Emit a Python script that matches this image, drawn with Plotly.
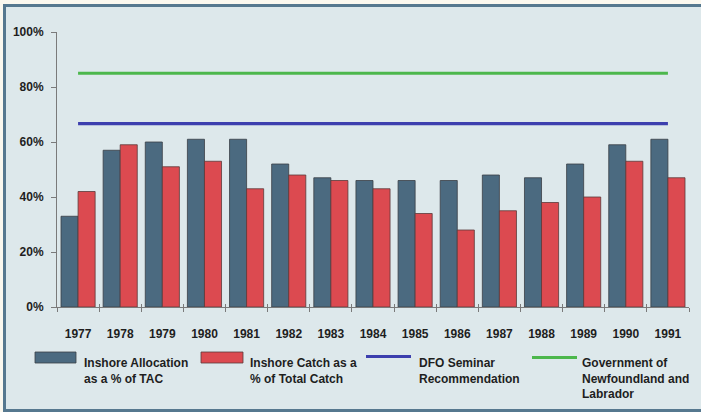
import plotly.graph_objects as go

# Inshore share of the northern cod fishery, 1977-1991
years = ["1977", "1978", "1979", "1980", "1981", "1982", "1983", "1984",
         "1985", "1986", "1987", "1988", "1989", "1990", "1991"]
allocation_pct = [33, 57, 60, 61, 61, 52, 47, 46, 46, 46, 48, 47, 52, 59, 61]
catch_pct = [42, 59, 51, 53, 43, 48, 46, 43, 34, 28, 35, 38, 40, 53, 47]
dfo_recommendation = 66.7
nl_government = 85.0

y_ticks = [0, 20, 40, 60, 80, 100]
y_tick_labels = ["0%", "20%", "40%", "60%", "80%", "100%"]

legend_labels = [
    "Inshore Allocation<br>as a % of TAC",
    "Inshore Catch as a<br>% of Total Catch",
    "DFO Seminar<br>Recommendation",
    "Government of<br>Newfoundland and<br>Labrador",
]

SLATE = "#4b6a80"
RED = "#dc4a50"
BLUE = "#3c3fae"
GREEN = "#4cb74c"
INNER_BG = "#dde8eb"
OUTER_BG = "#fbf8ef"
FRAME = "#56788f"
TEXT = "#1e1e1e"

W, H = 701, 412
L, R, T, B = 57, 12, 32, 105
PW, PH = W - L - R, H - T - B


def px_x(px):
    return (px - L) / PW


def px_y(py):
    return (H - B - py) / PH


font = dict(family="Liberation Sans, Arial, sans-serif", size=12, color=TEXT, weight=700)

fig = go.Figure()
fig.add_trace(go.Bar(x=years, y=allocation_pct, marker=dict(color=SLATE, line=dict(color="#3a3f45", width=0.8)),
                     name=legend_labels[0], showlegend=False))
fig.add_trace(go.Bar(x=years, y=catch_pct, marker=dict(color=RED, line=dict(color="#5a3a3a", width=0.8)),
                     name=legend_labels[1], showlegend=False))
fig.add_trace(go.Scatter(x=years, y=[dfo_recommendation] * len(years), mode="lines",
                         line=dict(color=BLUE, width=3.2), showlegend=False))
fig.add_trace(go.Scatter(x=years, y=[nl_government] * len(years), mode="lines",
                         line=dict(color=GREEN, width=3.2), showlegend=False))
# carrier for the inward half of the category boundary ticks
fig.add_trace(go.Scatter(x=years, y=[None] * len(years), xaxis="x2", mode="lines",
                         showlegend=False, hoverinfo="skip"))

shapes = [
    # page frame
    dict(type="rect", xref="paper", yref="paper", layer="below",
         x0=px_x(4.5), x1=px_x(705), y0=px_y(410.5), y1=px_y(5.5),
         line=dict(color=FRAME, width=3), fillcolor=INNER_BG),
    # legend swatches
    dict(type="rect", xref="paper", yref="paper", x0=px_x(35), x1=px_x(76), y0=px_y(363), y1=px_y(352),
         fillcolor=SLATE, line=dict(color="#3a3f45", width=0.8)),
    dict(type="rect", xref="paper", yref="paper", x0=px_x(201), x1=px_x(243), y0=px_y(363), y1=px_y(352),
         fillcolor=RED, line=dict(color="#5a3a3a", width=0.8)),
    dict(type="line", xref="paper", yref="paper", x0=px_x(366), x1=px_x(411), y0=px_y(356.5), y1=px_y(356.5),
         line=dict(color=BLUE, width=3.2)),
    dict(type="line", xref="paper", yref="paper", x0=px_x(532), x1=px_x(577), y0=px_y(357.5), y1=px_y(357.5),
         line=dict(color=GREEN, width=3.2)),
]

annotations = []
for label, x0 in zip(legend_labels, [83, 249, 418, 581]):
    annotations.append(dict(text=label, xref="paper", yref="paper", x=px_x(x0), y=px_y(355),
                            xanchor="left", yanchor="top", align="left", showarrow=False,
                            font=font, borderpad=0))

fig.update_layout(
    width=W, height=H,
    margin=dict(l=L, r=R, t=T, b=B),
    paper_bgcolor=OUTER_BG,
    plot_bgcolor="rgba(0,0,0,0)",
    barmode="group", bargap=0.19, bargroupgap=0,
    showlegend=False,
    font=font,
    shapes=shapes,
    annotations=annotations,
    xaxis=dict(type="category", categoryorder="array", categoryarray=years,
               range=[-0.5, len(years) - 0.5], tickson="boundaries",
               ticks="outside", ticklen=4, tickcolor="#7a7a7a", showline=True,
               linecolor="#7a7a7a", linewidth=1, showgrid=False, zeroline=False,
               tickfont=font, ticklabelstandoff=16),
    xaxis2=dict(type="category", categoryorder="array", categoryarray=years,
                overlaying="x", anchor="y", side="bottom",
                range=[-0.5, len(years) - 0.5], tickson="boundaries",
                ticks="inside", ticklen=3, tickcolor="#7a7a7a", showline=False,
                showgrid=False, zeroline=False, showticklabels=False),
    yaxis=dict(range=[0, 100], tickmode="array", tickvals=y_ticks, ticktext=y_tick_labels,
               ticks="outside", ticklen=5,
               tickcolor="#7a7a7a", showline=True, linecolor="#7a7a7a", linewidth=1,
               showgrid=False, zeroline=False, tickfont=font, ticklabelstandoff=5),
)

fig.write_html("out.html")
